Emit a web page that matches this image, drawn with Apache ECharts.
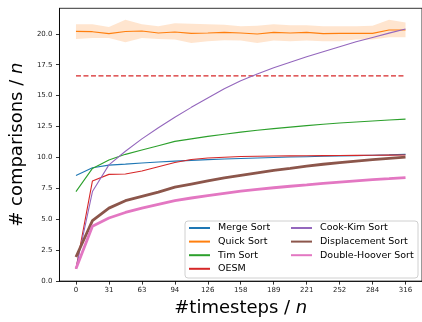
<!DOCTYPE html>
<html>
<head>
<meta charset="utf-8">
<script src="https://cdn.jsdelivr.net/npm/echarts@6/dist/echarts.min.js"></script>
<style>
  html, body { margin: 0; padding: 0; background: #fff; }
  #chart { width: 422px; height: 322px; }
</style>
</head>
<body>
<div id="chart"></div>
<script>
// x positions (#timesteps / n) of the measured points
const timesteps = [0, 15.8, 31.6, 47.4, 63.2, 79, 94.8, 110.6, 126.4, 142.2, 158,
  173.8, 189.6, 205.4, 221.2, 237, 252.8, 268.6, 284.4, 300.2, 316];
const xTickValues = [0, 31.6, 63.2, 94.8, 126.4, 158, 189.6, 221.2, 252.8, 284.4, 316];
const xTickLabels = ["0", "31", "63", "94", "126", "158", "189", "221", "252", "284", "316"];
const yTicks = [0, 2.5, 5, 7.5, 10, 12.5, 15, 17.5, 20];

const mergeSort = [8.53, 9.17, 9.38, 9.46, 9.55, 9.63, 9.7, 9.76, 9.82, 9.87, 9.92,
  9.96, 10.0, 10.03, 10.06, 10.09, 10.12, 10.15, 10.18, 10.21, 10.25];
const quickSort = [20.19, 20.17, 20.01, 20.19, 20.22, 20.06, 20.14, 20.03, 20.06, 20.11, 20.06,
  19.98, 20.11, 20.06, 20.11, 20.01, 20.03, 20.03, 20.03, 20.3, 20.3];
const quickLow = [19.58, 19.66, 19.66, 19.31, 19.66, 19.58, 19.53, 19.26, 19.39, 19.47, 19.45,
  19.26, 19.45, 19.39, 19.45, 19.39, 19.39, 19.53, 19.53, 19.71, 19.71];
const quickHigh = [20.78, 20.78, 20.54, 21.13, 20.78, 20.6, 20.86, 20.81, 20.78, 20.73, 20.6,
  20.65, 20.78, 20.68, 20.68, 20.6, 20.6, 20.6, 20.65, 21.13, 20.92];
const timSort = [7.24, 9.11, 9.8, 10.25, 10.6, 10.95, 11.3, 11.5, 11.7, 11.88, 12.05,
  12.2, 12.33, 12.45, 12.57, 12.68, 12.78, 12.87, 12.95, 13.03, 13.1];
const oesm = [1.0, 8.1, 8.63, 8.66, 8.9, 9.25, 9.59, 9.83, 9.95, 10.02, 10.07,
  10.1, 10.12, 10.13, 10.14, 10.15, 10.16, 10.17, 10.18, 10.19, 10.2];
const oesmBound = 16.6;
const cookKim = [1.0, 7.24, 9.4, 10.5, 11.5, 12.4, 13.25, 14.05, 14.8, 15.55, 16.2,
  16.75, 17.25, 17.7, 18.15, 18.55, 18.95, 19.35, 19.7, 20.05, 20.38];
const displacement = [1.95, 4.89, 5.9, 6.5, 6.85, 7.2, 7.6, 7.85, 8.1, 8.35, 8.55,
  8.75, 8.95, 9.12, 9.3, 9.45, 9.58, 9.7, 9.82, 9.92, 10.02];
const doubleHoover = [1.0, 4.44, 5.1, 5.55, 5.9, 6.2, 6.5, 6.72, 6.92, 7.1, 7.27,
  7.42, 7.55, 7.67, 7.78, 7.9, 8.0, 8.1, 8.2, 8.28, 8.37];

const FONT = "DejaVu Sans";

const pts = (ys) => ys.map((y, i) => [timesteps[i], y]);

const line = (name, ys, color, width) => ({
  name: name,
  type: "line",
  data: pts(ys),
  symbol: "none",
  color: color,
  lineStyle: { color: color, width: width },
  z: width > 2 ? 4 : 3,
});

const chart = echarts.init(document.getElementById("chart"), null, { renderer: "canvas" });

const legendCommon = {
  orient: "vertical",
  padding: 0,
  itemWidth: 21,
  itemHeight: 10,
  itemGap: 3.6,
  itemStyle: { opacity: 0 },
  textStyle: { fontFamily: FONT, fontSize: 9.5, color: "#000", padding: [0, 0, 0, 3] },
  z: 10,
};

// shaded spread of Quick Sort, drawn as one polygon
const renderBand = (params, api) => {
  if (params.dataIndex !== 0) return;
  const top = timesteps.map((t, i) => api.coord([t, quickHigh[i]]));
  const bottom = timesteps.map((t, i) => api.coord([t, quickLow[i]])).reverse();
  return {
    type: "polygon",
    shape: { points: top.concat(bottom) },
    style: { fill: "rgba(255,127,14,0.2)" },
  };
};

chart.setOption({
  animation: false,
  backgroundColor: "#fff",
  grid: {
    left: 56.5,
    right: -3,
    top: 8.3,
    bottom: 38.3,
    show: true,
    borderColor: "#000",
    borderWidth: 0.8,
    backgroundColor: "transparent",
  },
  xAxis: {
    type: "value",
    min: -15.8,
    max: 331.8,
    name: "#timesteps / {i|n}",
    nameLocation: "middle",
    nameGap: 17,
    nameTextStyle: {
      fontFamily: FONT, fontSize: 18, color: "#000",
      rich: { i: { fontFamily: FONT, fontSize: 18, fontStyle: "italic", color: "#000" } },
    },
    splitLine: { show: false },
    axisLine: { onZero: false, lineStyle: { color: "#000", width: 0.8 } },
    axisTick: { length: 3.5, lineStyle: { color: "#000", width: 0.8 }, customValues: xTickValues },
    axisLabel: {
      customValues: xTickValues,
      formatter: (v) => {
        const i = xTickValues.findIndex((t) => Math.abs(t - v) < 1e-6);
        return i >= 0 ? xTickLabels[i] : "";
      },
      fontFamily: FONT, fontSize: 7, color: "#222", margin: 6,
    },
  },
  yAxis: {
    type: "value",
    min: 0,
    max: 22.06,
    name: "# comparisons / {i|n}",
    nameLocation: "middle",
    nameGap: 31,
    nameTextStyle: {
      fontFamily: FONT, fontSize: 18, color: "#000",
      rich: { i: { fontFamily: FONT, fontSize: 18, fontStyle: "italic", color: "#000" } },
    },
    splitLine: { show: false },
    axisLine: { show: true, onZero: false, lineStyle: { color: "#000", width: 0.8 } },
    axisTick: { show: true, length: 3.5, lineStyle: { color: "#000", width: 0.8 }, customValues: yTicks },
    axisLabel: {
      customValues: yTicks,
      formatter: (v) => v.toFixed(1),
      fontFamily: FONT, fontSize: 7, color: "#222", margin: 7,
    },
  },
  legend: [
    Object.assign({}, legendCommon, {
      left: 188, top: 223,
      data: ["Merge Sort", "Quick Sort", "Tim Sort", "OESM"],
    }),
    Object.assign({}, legendCommon, {
      left: 290, top: 223,
      data: ["Cook-Kim Sort", "Displacement Sort", "Double-Hoover Sort"],
    }),
  ],
  graphic: [{
    type: "rect",
    shape: { x: 185, y: 221, width: 233, height: 57, r: 3 },
    style: { fill: "rgba(255,255,255,0.8)", stroke: "#d0d0d0", lineWidth: 1 },
    z: 9,
  }],
  series: [
    {
      name: "quickBand",
      type: "custom",
      data: timesteps.map((t, i) => [t, quickLow[i], quickHigh[i]]),
      encode: { x: 0, y: [1, 2] },
      renderItem: renderBand,
      silent: true,
      z: 1,
    },
    line("Merge Sort", mergeSort, "#1f77b4", 1.1),
    line("Quick Sort", quickSort, "#ff7f0e", 1.1),
    line("Tim Sort", timSort, "#2ca02c", 1.1),
    line("OESM", oesm, "#d62728", 1.1),
    {
      name: "oesmBound",
      type: "line",
      data: timesteps.map((t) => [t, oesmBound]),
      symbol: "none",
      lineStyle: { color: "#d62728", width: 1.3, type: [5, 2.5] },
      z: 3,
    },
    line("Cook-Kim Sort", cookKim, "#9467bd", 1.1),
    line("Displacement Sort", displacement, "#8c564b", 2.8),
    line("Double-Hoover Sort", doubleHoover, "#e377c2", 2.8),
  ],
});

window.addEventListener("resize", () => chart.resize());
</script>
</body>
</html>
